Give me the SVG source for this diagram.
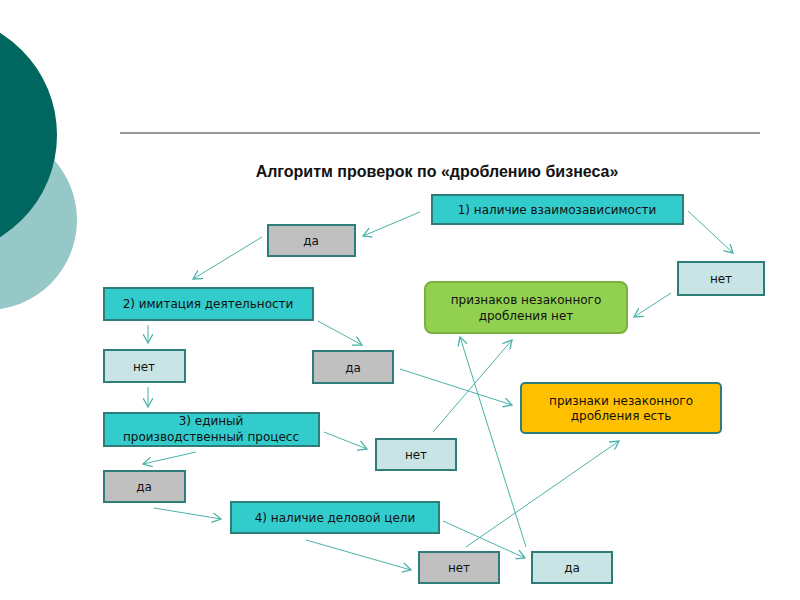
<svg xmlns="http://www.w3.org/2000/svg" width="800" height="600" viewBox="0 0 800 600">
<defs>
<marker id="a" viewBox="0 0 10 10" refX="9" refY="5" markerWidth="10" markerHeight="10" markerUnits="userSpaceOnUse" orient="auto"><path d="M0,0 L9,5 L0,10" fill="none" stroke="#4ab3a8" stroke-width="1.3"/></marker>
</defs>
<style>
text{font-family:"DejaVu Sans","Liberation Sans",sans-serif;font-size:12px;fill:#111;text-anchor:middle}
.b{stroke:#2e7d78;stroke-width:2}
.t{fill:#33cccc}.g{fill:#c0c0c0}.l{fill:#c8e4e4}
#conn line{stroke:#4ab3a8;stroke-width:1;marker-end:url(#a)}
</style>
<rect width="800" height="600" fill="#fff"/>
<circle cx="-13" cy="220" r="90" fill="#96c8c8"/>
<circle cx="-63" cy="135" r="120" fill="#006660"/>
<line x1="120" y1="133" x2="760" y2="133" stroke="#333" stroke-width="1"/>
<text x="437" y="177" style="font-size:16px;font-weight:bold;font-family:'Liberation Sans',sans-serif">Алгоритм проверок по «дроблению бизнеса»</text>
<g id="n1"><rect class="b t" x="432" y="195" width="251" height="29"/><text x="557" y="214">1) наличие взаимозависимости</text></g>
<g id="n1yes"><rect class="b g" x="268" y="225" width="87" height="31"/><text x="311" y="245">да</text></g>
<g id="n1no"><rect class="b l" x="678" y="262" width="86" height="33"/><text x="721" y="283">нет</text></g>
<g id="ok"><rect x="425" y="282" width="202" height="51" rx="7" fill="#92d050" stroke="#7ab040" stroke-width="2"/><text x="526" y="304">признаков незаконного</text><text x="526" y="320">дробления нет</text></g>
<g id="n2"><rect class="b t" x="104" y="288" width="209" height="32"/><text x="208" y="308">2) имитация деятельности</text></g>
<g id="n2no"><rect class="b l" x="104" y="350" width="81" height="32"/><text x="144" y="371">нет</text></g>
<g id="n2yes"><rect class="b g" x="313" y="351" width="80" height="32"/><text x="353" y="372">да</text></g>
<g id="bad"><rect x="521" y="383" width="200" height="50" rx="4" fill="#ffc000" stroke="#2e7d78" stroke-width="2"/><text x="621" y="405">признаки незаконного</text><text x="621" y="420">дробления есть</text></g>
<g id="n3"><rect class="b t" x="104" y="413" width="215" height="33"/><text x="211" y="425">3) единый</text><text x="211" y="441">производственный процесс</text></g>
<g id="n3no"><rect class="b l" x="376" y="439" width="80" height="31"/><text x="416" y="459">нет</text></g>
<g id="n3yes"><rect class="b g" x="104" y="471" width="81" height="31"/><text x="144" y="491">да</text></g>
<g id="n4"><rect class="b t" x="231" y="502" width="208" height="31"/><text x="335" y="522">4) наличие деловой цели</text></g>
<g id="n4no"><rect class="b g" x="419" y="552" width="80" height="31"/><text x="459" y="572">нет</text></g>
<g id="n4yes"><rect class="b l" x="532" y="552" width="80" height="31"/><text x="572" y="572">да</text></g>
<g id="conn">
<line x1="420" y1="212" x2="363" y2="236"/>
<line x1="262" y1="237" x2="193" y2="279"/>
<line x1="688" y1="211" x2="733" y2="253"/>
<line x1="671" y1="293" x2="634" y2="317"/>
<line x1="148" y1="325" x2="148" y2="343"/>
<line x1="318" y1="321" x2="362" y2="345"/>
<line x1="400" y1="369" x2="512" y2="405"/>
<line x1="148" y1="387" x2="148" y2="407"/>
<line x1="196" y1="452" x2="143" y2="464"/>
<line x1="324" y1="432" x2="367" y2="449"/>
<line x1="433" y1="432" x2="512" y2="340"/>
<line x1="154" y1="508" x2="221" y2="519"/>
<line x1="306" y1="540" x2="411" y2="570"/>
<line x1="443" y1="521" x2="525" y2="558"/>
<line x1="466" y1="547" x2="619" y2="441"/>
<line x1="526" y1="547" x2="460" y2="337"/>
</g>
</svg>
